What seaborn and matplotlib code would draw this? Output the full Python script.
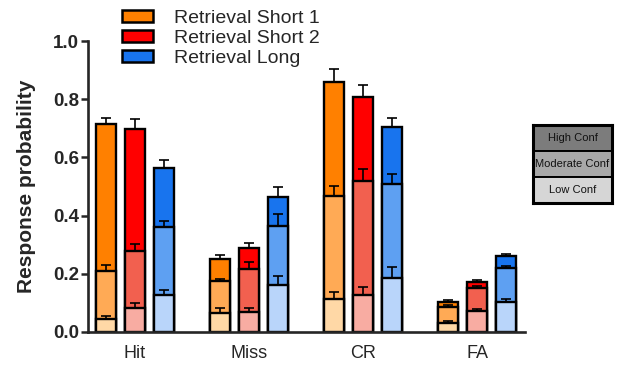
import numpy as np
import pandas as pd
import matplotlib
matplotlib.use("Agg")
import matplotlib.pyplot as plt
from matplotlib.patches import Patch, Rectangle
import seaborn as sns

categories = ["Hit", "Miss", "CR", "FA"]
conditions = ["Retrieval Short 1", "Retrieval Short 2", "Retrieval Long"]
conf_levels = ["High Conf", "Moderate Conf", "Low Conf"]

# segment probabilities (per category) for each condition
low_s1 = [0.045, 0.066, 0.112, 0.032]
low_s2 = [0.081, 0.070, 0.126, 0.072]
low_long = [0.127, 0.161, 0.185, 0.104]
mod_s1 = [0.166, 0.109, 0.355, 0.055]
mod_s2 = [0.198, 0.145, 0.394, 0.078]
mod_long = [0.235, 0.203, 0.324, 0.115]
high_s1 = [0.504, 0.076, 0.393, 0.017]
high_s2 = [0.418, 0.073, 0.289, 0.023]
high_long = [0.203, 0.100, 0.197, 0.042]

# SEM at the top of each cumulative segment
err_low_s1 = [0.010, 0.015, 0.027, 0.005]
err_low_s2 = [0.017, 0.011, 0.030, 0.008]
err_low_long = [0.017, 0.031, 0.038, 0.008]
err_mod_s1 = [0.020, 0.007, 0.035, 0.006]
err_mod_s2 = [0.025, 0.027, 0.040, 0.008]
err_mod_long = [0.020, 0.040, 0.033, 0.008]
err_high_s1 = [0.020, 0.014, 0.043, 0.005]
err_high_s2 = [0.034, 0.017, 0.040, 0.006]
err_high_long = [0.027, 0.036, 0.029, 0.006]

high_colors = ["#FF8000", "#FF0000", "#1874EE"]
mod_colors = ["#FFAA55", "#F2604F", "#5EA0F2"]
low_colors = ["#FFD8A6", "#F8ACA2", "#B9D5FA"]
key_colors = ["#7C7C7C", "#A8A8A8", "#D6D6D6"]

low = [low_s1, low_s2, low_long]
mod = [mod_s1, mod_s2, mod_long]
high = [high_s1, high_s2, high_long]
err_low = [err_low_s1, err_low_s2, err_low_long]
err_mod = [err_mod_s1, err_mod_s2, err_mod_long]
err_high = [err_high_s1, err_high_s2, err_high_long]

rows = []
for ci, cond in enumerate(conditions):
    for k, cat in enumerate(categories):
        l = low[ci][k]
        m = l + mod[ci][k]
        t = m + high[ci][k]
        rows.append(dict(category=cat, condition=cond, low=l, mod=m, total=t,
                         e_low=err_low[ci][k], e_mod=err_mod[ci][k], e_high=err_high[ci][k]))
df = pd.DataFrame(rows)

sns.set_style("ticks")
plt.rcParams["font.family"] = ["Liberation Sans", "DejaVu Sans"]

fig = plt.figure(figsize=(6.24, 3.73), dpi=100)
W, H = 624, 373
ax = fig.add_axes([88 / W, (H - 332) / H, (525 - 88) / W, 291 / H])

lw = 1.7
layers = [("total", high_colors, "e_high"), ("mod", mod_colors, "e_mod"), ("low", low_colors, "e_low")]
for col, pal, ecol in layers:
    n0 = len(ax.containers)
    sns.barplot(data=df, x="category", y=col, hue="condition", order=categories,
                hue_order=conditions, palette=pal, saturation=1, errorbar=None,
                width=0.756, gap=0.3, edgecolor="black", linewidth=lw, legend=False,
                ax=ax, zorder=2)
    for ci, cond in enumerate(conditions):
        cont = ax.containers[n0 + ci]
        sub = df[df.condition == cond].set_index("category").loc[categories]
        xs = [p.get_x() + p.get_width() / 2 for p in cont.patches]
        ys = sub[col].values
        es = sub[ecol].values
        ax.errorbar(xs, ys, yerr=[np.zeros_like(es), es], fmt="none", ecolor="black",
                    elinewidth=1.2, capsize=3.8, capthick=1.2, zorder=5)

ax.set_xlim(-0.412, 3.421)
ax.set_ylim(0, 1.0)
ax.set_yticks([0, 0.2, 0.4, 0.6, 0.8, 1.0])
ax.set_yticklabels(["0.0", "0.2", "0.4", "0.6", "0.8", "1.0"], fontsize=13.5, fontweight="bold")
ax.set_xlabel("")
ax.set_ylabel("Response probability", fontsize=15, fontweight="bold", labelpad=12)
ax.tick_params(axis="y", length=5, width=1.8, pad=1.5)
ax.tick_params(axis="x", length=0, pad=9, labelsize=13)
for s in ["top", "right"]:
    ax.spines[s].set_visible(False)
for s in ["left", "bottom"]:
    ax.spines[s].set_linewidth(1.9)

handles = [Patch(facecolor=c, edgecolor="black", linewidth=1.8) for c in high_colors]
fig.legend(handles, conditions, loc="upper left", bbox_to_anchor=(122 / W, 1 - 10 / H),
           frameon=False, fontsize=14, handlelength=1.6, handleheight=0.55,
           handletextpad=1.1, labelspacing=0.15, borderpad=0, borderaxespad=0)

kax = fig.add_axes([533 / W, (H - 203) / H, 79 / W, 78 / H])
for i, (lab, c) in enumerate(zip(conf_levels, key_colors)):
    kax.add_patch(Rectangle((0, 2 - i), 1, 1, facecolor=c, edgecolor="black", linewidth=1.4))
    kax.text(0.5, 2.5 - i, lab, ha="center", va="center", fontsize=8, color="#111111")
kax.set_xlim(0, 1)
kax.set_ylim(0, 3)
kax.set_xticks([])
kax.set_yticks([])
for s in kax.spines.values():
    s.set_linewidth(2.2)
    s.set_color("black")

fig.savefig("out.png", dpi=100)
